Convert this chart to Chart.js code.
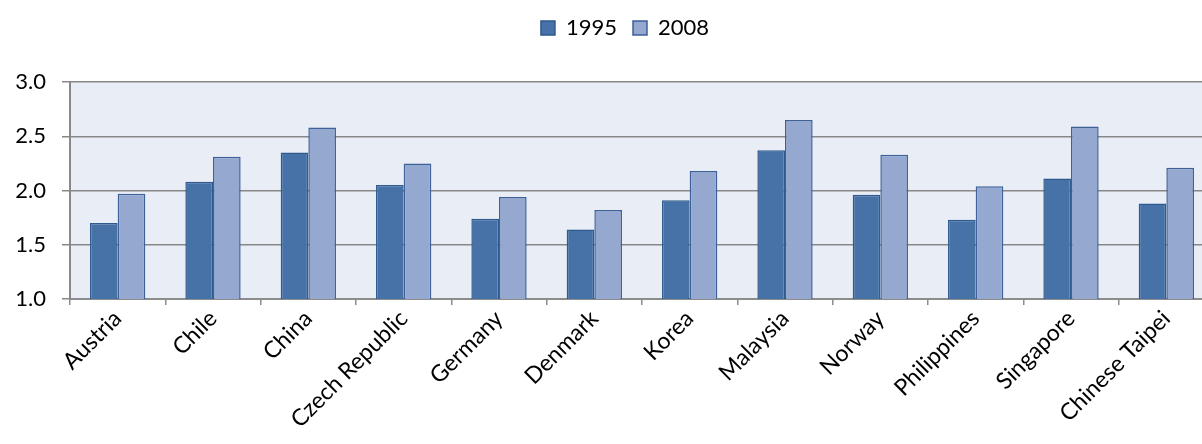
<!DOCTYPE html>
<html>
<head>
<meta charset="utf-8">
<script src="https://cdn.jsdelivr.net/npm/chart.js@4/dist/chart.umd.min.js"></script>
<style>
    html, body { margin: 0; padding: 0; background: #fff; overflow: hidden; }
    #wrap { position: absolute; left: 0; top: 0; width: 1214px; height: 480px; }
</style>
</head>
<body>
<div id="wrap"><canvas id="chart"></canvas></div>
<script>
// data
const countries = ['Austria', 'Chile', 'China', 'Czech Republic', 'Germany', 'Denmark',
    'Korea', 'Malaysia', 'Norway', 'Philippines', 'Singapore', 'Chinese Taipei'];
const values1995 = [1.70, 2.08, 2.35, 2.05, 1.74, 1.64, 1.91, 2.37, 1.96, 1.73, 2.11, 1.88];
const values2008 = [1.97, 2.31, 2.58, 2.25, 1.94, 1.82, 2.18, 2.65, 2.33, 2.04, 2.59, 2.21];
const seriesNames = ['1995', '2008'];

const FONT = 'Lato, "Open Sans", sans-serif';

// light blue-grey fill behind the plot
const plotBackground = {
    id: 'plotBackground',
    beforeDraw(chart) {
        const { ctx, chartArea: a } = chart;
        ctx.save();
        ctx.fillStyle = '#E9EDF5';
        ctx.fillRect(a.left, a.top, a.right - a.left, a.bottom - a.top);
        ctx.restore();
    }
};

// extra gap under the legend, and nudge it right a little
const legendGap = {
    id: 'legendGap',
    beforeInit(chart) {
        const legend = chart.legend;
        const fit = legend.fit;
        legend.fit = function () {
            fit.call(this);
            this.height += 33;
        };
        const draw = legend.draw;
        legend.draw = function () {
            this.ctx.save();
            this.ctx.translate(18, 0);
            draw.call(this);
            this.ctx.restore();
        };
    }
};

new Chart(document.getElementById('chart'), {
    type: 'bar',
    data: {
        labels: countries,
        datasets: [{
            label: seriesNames[0],
            data: values1995,
            backgroundColor: '#4672A8',
            borderColor: '#2E5A8E',
            borderWidth: 1.5,
            borderSkipped: false
        }, {
            label: seriesNames[1],
            data: values2008,
            backgroundColor: '#95A9D0',
            borderColor: '#3D6198',
            borderWidth: 1.5,
            borderSkipped: false
        }]
    },
    options: {
        responsive: true,
        maintainAspectRatio: false,
        animation: false,
        datasets: {
            bar: { categoryPercentage: 0.58, barPercentage: 1.0 }
        },
        layout: { padding: { left: 0, right: 0, top: 1, bottom: 0 } },
        plugins: {
            legend: {
                position: 'top',
                labels: {
                    color: '#000',
                    font: { family: FONT, size: 22 },
                    boxWidth: 14,
                    boxHeight: 14,
                    padding: 16,
                    generateLabels(chart) {
                        return chart.data.datasets.map((ds, i) => ({
                            text: ds.label,
                            fillStyle: ds.backgroundColor,
                            strokeStyle: ds.borderColor,
                            lineWidth: 1.5,
                            datasetIndex: i
                        }));
                    }
                }
            },
            tooltip: { enabled: false }
        },
        scales: {
            x: {
                offset: true,
                grid: {
                    offset: true,
                    drawOnChartArea: false,
                    drawTicks: true,
                    tickLength: 6,
                    color: '#8C8C8C',
                    lineWidth: 1.5
                },
                border: { color: '#8C8C8C', width: 2 },
                ticks: {
                    color: '#000',
                    font: { family: FONT, size: 23 },
                    minRotation: 45,
                    maxRotation: 45,
                    autoSkip: false,
                    padding: 0
                },
                afterFit(scale) { scale.height = 181; }
            },
            y: {
                min: 1.0,
                max: 3.0,
                ticks: {
                    stepSize: 0.5,
                    color: '#000',
                    font: { family: FONT, size: 22 },
                    padding: 16,
                    callback: v => v.toFixed(1)
                },
                grid: {
                    color: '#888888',
                    lineWidth: 1.5,
                    drawTicks: true,
                    tickLength: 8
                },
                border: { color: '#888888', width: 2 },
                afterFit(scale) { scale.width = 70; }
            }
        }
    },
    plugins: [plotBackground, legendGap]
});
</script>
</body>
</html>
